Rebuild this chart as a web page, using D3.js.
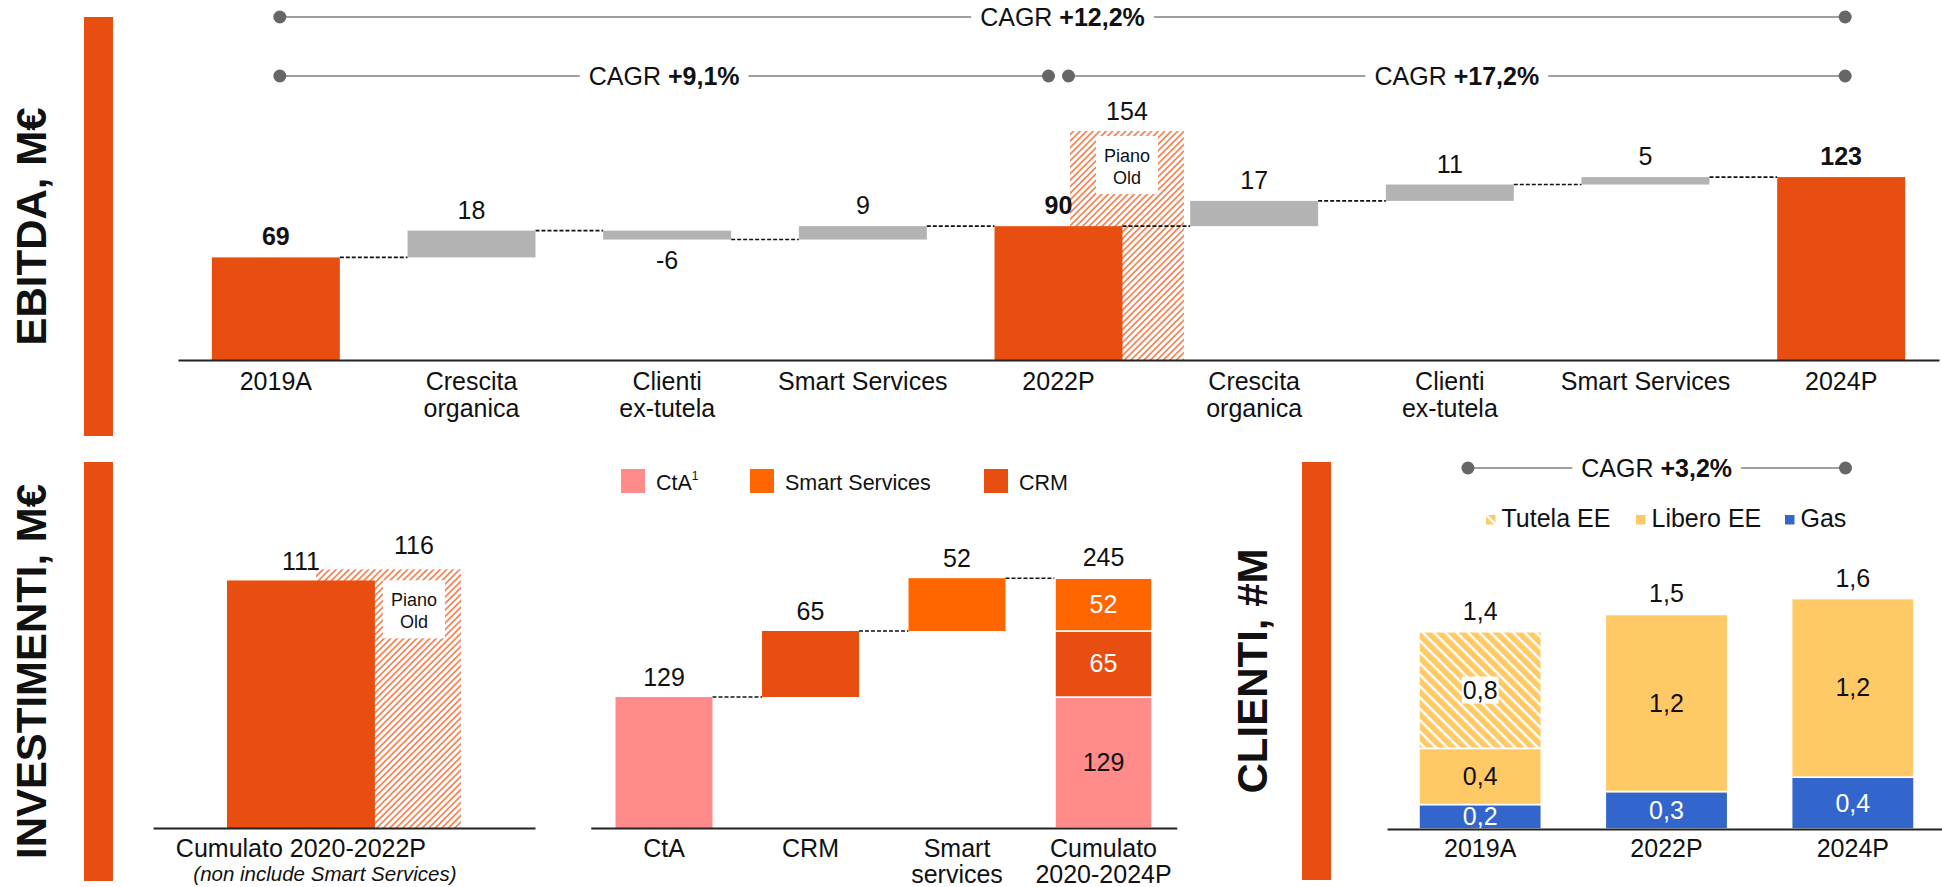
<!DOCTYPE html>
<html>
<head>
<meta charset="utf-8">
<script src="https://cdn.jsdelivr.net/npm/d3@7"></script>
<style>
  body { margin: 0; background: #fff; }
  svg { display: block; font-family: "Liberation Sans", Arial, sans-serif; }
</style>
</head>
<body>
<svg id="chart" width="1942" height="887"></svg>
<script>
// EBITDA bridge, M€
const ebitdaCats = ['2019A', 'Crescita|organica', 'Clienti|ex-tutela', 'Smart Services', '2022P', 'Crescita|organica', 'Clienti|ex-tutela', 'Smart Services', '2024P'];
const ebitdaValues = [69, 18, -6, 9, 90, 17, 11, 5, 123];
const ebitdaIsTotal = [true, false, false, false, true, false, false, false, true];
const ebitdaOldPlan = 154;
const ebitdaCagr = [
  { from: 0, to: 8, label: '+12,2%', row: 0 },
  { from: 0, to: 4, label: '+9,1%', row: 1 },
  { from: 4, to: 8, label: '+17,2%', row: 1 }
];

// Investimenti, M€
const capexOldCat = 'Cumulato 2020-2022P';
const capexOldNote = '(non include Smart Services)';
const capexOldValue = 111;
const capexOldPlan = 116;

const capexCats = ['CtA', 'CRM', 'Smart|services', 'Cumulato|2020-2024P'];
const capexSeries = ['CtA', 'CRM', 'Smart Services'];
const capexValues = [129, 65, 52];
const capexTotal = 245;
const capexLegend = ['CtA', 'Smart Services', 'CRM'];

// Clienti, #M
const clientYears = ['2019A', '2022P', '2024P'];
const clientSeries = ['Gas', 'Libero EE', 'Tutela EE'];
const clientGas = [0.17, 0.26, 0.36];
const clientLibero = [0.39, 1.23, 1.24];
const clientTutela = [0.81, 0, 0];
const clientLegend = ['Tutela EE', 'Libero EE', 'Gas'];
const clientCagr = '+3,2%';

const ORANGE = '#e84e10';
const GREY = '#b3b3b3';
const PINK = '#ff8b8b';
const SMART = '#ff6600';
const YELLOW = '#ffc966';
const BLUE = '#3366cc';
const INK = '#111';

const svg = d3.select('#chart');
const defs = svg.append('defs');

const hatchOld = defs.append('pattern')
  .attr('id', 'hatch-old')
  .attr('patternUnits', 'userSpaceOnUse')
  .attr('width', 4.6).attr('height', 4.6)
  .attr('patternTransform', 'rotate(45)');
hatchOld.append('rect').attr('width', 4.6).attr('height', 4.6).attr('fill', '#fff');
hatchOld.append('rect').attr('width', 1.8).attr('height', 4.6).attr('fill', '#f2875a');

const hatchTutela = defs.append('pattern')
  .attr('id', 'hatch-tutela')
  .attr('patternUnits', 'userSpaceOnUse')
  .attr('width', 8).attr('height', 8)
  .attr('patternTransform', 'rotate(-45)');
hatchTutela.append('rect').attr('width', 8).attr('height', 8).attr('fill', '#fff');
hatchTutela.append('rect').attr('width', 5.6).attr('height', 8).attr('fill', YELLOW);

const fmt1 = v => d3.format('.1f')(v).replace('.', ',');

function sectionMarker(xBar, y0, y1, xText, label, len) {
  svg.append('rect')
    .attr('x', xBar).attr('y', y0)
    .attr('width', 29).attr('height', y1 - y0)
    .attr('fill', ORANGE);
  const t = svg.append('text')
    .attr('transform', `translate(${xText},${(y0 + y1) / 2}) rotate(-90)`)
    .attr('text-anchor', 'middle')
    .attr('font-size', 42)
    .attr('font-weight', 'bold')
    .attr('fill', INK)
    .text(label);
  if (len) t.attr('textLength', len).attr('lengthAdjust', 'spacingAndGlyphs');
}

function cagrBracket(x1, x2, y, value) {
  const g = svg.append('g');
  g.append('line')
    .attr('x1', x1).attr('x2', x2).attr('y1', y).attr('y2', y)
    .attr('stroke', '#7f7f7f').attr('stroke-width', 1.6);
  g.selectAll('circle').data([x1, x2]).join('circle')
    .attr('cx', d => d).attr('cy', y).attr('r', 6.5).attr('fill', '#666');
  const t = g.append('text')
    .attr('x', (x1 + x2) / 2).attr('y', y + 9)
    .attr('text-anchor', 'middle')
    .attr('font-size', 25).attr('fill', INK);
  t.append('tspan').text('CAGR ');
  t.append('tspan').attr('font-weight', 'bold').text(value);
  const b = t.node().getBBox();
  g.insert('rect', 'text')
    .attr('x', b.x - 9).attr('y', y - 3)
    .attr('width', b.width + 18).attr('height', 6)
    .attr('fill', '#fff');
}

function bottomAxis(scale, y, labels, size, firstDy, lineH) {
  const g = svg.append('g')
    .attr('transform', `translate(0,${y})`)
    .call(d3.axisBottom(scale).tickSize(0).tickSizeOuter(0).tickFormat(d => labels(d)));
  g.select('.domain').attr('stroke', '#222').attr('stroke-width', 2);
  g.attr('font-family', null).attr('font-size', size);
  g.selectAll('.tick text').each(function(d) {
    const t = d3.select(this);
    const parts = labels(d).split('|');
    t.text(null).attr('dy', null).attr('fill', INK);
    parts.forEach((p, k) => t.append('tspan').attr('x', 0).attr('y', firstDy + k * lineH).text(p));
  });
  return g;
}

function pianoOldBox(cx, top) {
  svg.append('rect')
    .attr('x', cx - 31).attr('y', top)
    .attr('width', 62).attr('height', 58)
    .attr('fill', '#fff');
  const t = svg.append('text')
    .attr('x', cx).attr('y', top + 26)
    .attr('text-anchor', 'middle')
    .attr('font-size', 18).attr('fill', INK);
  t.append('tspan').attr('x', cx).text('Piano');
  t.append('tspan').attr('x', cx).attr('dy', 21.5).text('Old');
}

function dashed(x1, x2, y) {
  svg.append('line')
    .attr('x1', x1).attr('x2', x2).attr('y1', y).attr('y2', y)
    .attr('stroke', '#111').attr('stroke-width', 1.6)
    .attr('stroke-dasharray', '4 2');
}

// ---------- EBITDA ----------
sectionMarker(84, 17, 436, 46, 'EBITDA, M€');

const xE = d3.scaleBand()
  .domain(d3.range(ebitdaCats.length))
  .range([178, 1939])
  .paddingInner(0.346)
  .paddingOuter(0.173);
const yE = d3.scaleLinear().domain([0, 160]).range([360, 360 - 160 * 1.487]);
const bwE = xE.bandwidth();

let running = 0;
const ebitdaBars = ebitdaValues.map((v, i) => {
  let y0, y1;
  if (ebitdaIsTotal[i]) { y0 = 0; y1 = v; } else { y0 = running; y1 = running + v; }
  running = y1;
  return { i, v, y0, y1, total: ebitdaIsTotal[i] };
});

// old plan (hatched) behind 2022P
const oldIdx = ebitdaCats.indexOf('2022P');
const oldX = xE(oldIdx) + bwE * 0.59;
const oldW = bwE * 0.89;
svg.append('rect')
  .attr('x', oldX).attr('y', yE(ebitdaOldPlan))
  .attr('width', oldW).attr('height', yE(0) - yE(ebitdaOldPlan))
  .attr('fill', 'url(#hatch-old)');
pianoOldBox(oldX + oldW / 2, yE(ebitdaOldPlan) + 5);
svg.append('text')
  .attr('x', oldX + oldW / 2).attr('y', yE(ebitdaOldPlan) - 11)
  .attr('text-anchor', 'middle').attr('font-size', 25).attr('fill', INK)
  .text(ebitdaOldPlan);

for (let i = 0; i < ebitdaBars.length - 1; i++) {
  dashed(xE(i) + bwE, xE(i + 1), yE(ebitdaBars[i].y1));
}

svg.append('g').selectAll('rect')
  .data(ebitdaBars)
  .join('rect')
  .attr('x', d => xE(d.i))
  .attr('y', d => yE(Math.max(d.y0, d.y1)))
  .attr('width', bwE)
  .attr('height', d => Math.abs(yE(d.y0) - yE(d.y1)))
  .attr('fill', d => d.total ? ORANGE : GREY);

svg.append('g').selectAll('text')
  .data(ebitdaBars)
  .join('text')
  .attr('x', d => xE(d.i) + bwE / 2)
  .attr('y', d => d.v < 0 ? yE(Math.min(d.y0, d.y1)) + 29 : yE(Math.max(d.y0, d.y1)) - 12)
  .attr('text-anchor', 'middle')
  .attr('font-size', 25)
  .attr('font-weight', d => d.total ? 'bold' : 'normal')
  .attr('fill', INK)
  .text(d => d.v);

bottomAxis(xE, 360, i => ebitdaCats[i], 25, 30, 27);

ebitdaCagr.forEach(c => {
  const cy = c.row === 0 ? 17 : 76;
  let x1 = xE(c.from) + bwE / 2 + 4;
  let x2 = xE(c.to) + bwE / 2 + 4;
  if (c.row === 1 && c.to === oldIdx) x2 = xE(c.to) + bwE / 2 - 10;
  if (c.row === 1 && c.from === oldIdx) x1 = xE(c.from) + bwE / 2 + 10;
  cagrBracket(x1, x2, cy, c.label);
});

// ---------- INVESTIMENTI ----------
sectionMarker(84, 462, 881, 46, 'INVESTIMENTI, M€', 375);

const xI0 = d3.scaleBand().domain([capexOldCat]).range([153, 535]).paddingOuter(0.316);
const yI0 = d3.scaleLinear().domain([0, 120]).range([828, 828 - 120 * 2.23]);
const bwI0 = xI0.bandwidth();
const orangeW = bwI0 * 0.632;
const hatchX = xI0(capexOldCat) + bwI0 * 0.38;
const hatchW = bwI0 * 0.62;

svg.append('rect')
  .attr('x', hatchX).attr('y', yI0(capexOldPlan))
  .attr('width', hatchW).attr('height', yI0(0) - yI0(capexOldPlan))
  .attr('fill', 'url(#hatch-old)');
svg.append('rect')
  .attr('x', xI0(capexOldCat)).attr('y', yI0(capexOldValue))
  .attr('width', orangeW).attr('height', yI0(0) - yI0(capexOldValue))
  .attr('fill', ORANGE);
const visibleHatchC = (xI0(capexOldCat) + orangeW + hatchX + hatchW) / 2 - 4;
pianoOldBox(visibleHatchC, yI0(capexOldPlan) + 11);
svg.append('text')
  .attr('x', xI0(capexOldCat) + orangeW / 2).attr('y', yI0(capexOldValue) - 10)
  .attr('text-anchor', 'middle').attr('font-size', 25).attr('fill', INK)
  .text(capexOldValue);
svg.append('text')
  .attr('x', visibleHatchC).attr('y', yI0(capexOldPlan) - 15)
  .attr('text-anchor', 'middle').attr('font-size', 25).attr('fill', INK)
  .text(capexOldPlan);

const ax0 = svg.append('g')
  .attr('transform', 'translate(0,828)')
  .call(d3.axisBottom(xI0).tickSize(0).tickSizeOuter(0).tickFormat(''));
ax0.select('.domain').attr('stroke', '#222').attr('stroke-width', 2);
svg.append('text')
  .attr('x', xI0(capexOldCat) + orangeW / 2).attr('y', 857)
  .attr('text-anchor', 'middle').attr('font-size', 25).attr('fill', INK)
  .text(capexOldCat);
svg.append('text')
  .attr('x', xI0(capexOldCat) + orangeW / 2 + 24).attr('y', 881)
  .attr('text-anchor', 'middle').attr('font-size', 20.5).attr('font-style', 'italic').attr('fill', INK)
  .text(capexOldNote);

// waterfall 2020-2024
const capexColor = d3.scaleOrdinal().domain(capexSeries).range([PINK, ORANGE, SMART]);
const xI = d3.scaleBand()
  .domain(d3.range(capexCats.length))
  .range([590.75, 1176.75])
  .paddingInner(0.338)
  .paddingOuter(0.169);
const yI = d3.scaleLinear().domain([0, 260]).range([828, 828 - 260 * 1.0155]);
const bwI = xI.bandwidth();

let cum = 0;
const capexSteps = capexValues.map((v, i) => {
  const s = { i, key: capexSeries[i], v, y0: cum, y1: cum + v };
  cum += v;
  return s;
});
const totalIdx = capexCats.length - 1;

capexSteps.forEach((s, k) => {
  const nextX = k < capexSteps.length - 1 ? xI(k + 1) : xI(totalIdx);
  dashed(xI(k) + bwI, nextX, yI(s.y1));
});

svg.append('g').selectAll('rect')
  .data(capexSteps)
  .join('rect')
  .attr('x', d => xI(d.i))
  .attr('y', d => yI(d.y1))
  .attr('width', bwI)
  .attr('height', d => yI(d.y0) - yI(d.y1))
  .attr('fill', d => capexColor(d.key));

svg.append('g').selectAll('text')
  .data(capexSteps)
  .join('text')
  .attr('x', d => xI(d.i) + bwI / 2)
  .attr('y', d => yI(d.y1) - 11)
  .attr('text-anchor', 'middle').attr('font-size', 25).attr('fill', INK)
  .text(d => d.v);

svg.append('g').selectAll('rect')
  .data(capexSteps)
  .join('rect')
  .attr('x', xI(totalIdx))
  .attr('y', d => yI(d.y1))
  .attr('width', bwI)
  .attr('height', d => yI(d.y0) - yI(d.y1))
  .attr('fill', d => capexColor(d.key))
  .attr('stroke', '#fff').attr('stroke-width', 1.5);

svg.append('g').selectAll('text')
  .data(capexSteps)
  .join('text')
  .attr('x', xI(totalIdx) + bwI / 2)
  .attr('y', d => (yI(d.y0) + yI(d.y1)) / 2 + 8.5)
  .attr('text-anchor', 'middle').attr('font-size', 25)
  .attr('fill', d => d.key === 'CtA' ? INK : '#fff')
  .text(d => d.v);

svg.append('text')
  .attr('x', xI(totalIdx) + bwI / 2).attr('y', yI(cum) - 12)
  .attr('text-anchor', 'middle').attr('font-size', 25).attr('fill', INK)
  .text(capexTotal);

bottomAxis(xI, 828, i => capexCats[i], 25, 29, 26);

// legend
const capexLegendX = [621, 750, 984];
capexLegend.forEach((k, i) => {
  svg.append('rect')
    .attr('x', capexLegendX[i]).attr('y', 469)
    .attr('width', 24).attr('height', 24)
    .attr('fill', capexColor(k));
  const t = svg.append('text')
    .attr('x', capexLegendX[i] + 35).attr('y', 490)
    .attr('font-size', 21.5).attr('fill', INK)
    .text(k);
  if (k === 'CtA') t.append('tspan').attr('font-size', 12).attr('dy', -10).text('1');
});

// ---------- CLIENTI ----------
sectionMarker(1302, 462, 880, 1267, 'CLIENTI, #M');

const xC = d3.scaleBand()
  .domain(clientYears)
  .range([1387, 1946])
  .paddingInner(0.343)
  .paddingOuter(0.1715);
const yC = d3.scaleLinear().domain([0, 1.8]).range([829, 829 - 1.8 * 144]);
const bwC = xC.bandwidth();

const clientRows = clientYears.map((y, i) => ({
  year: y,
  'Gas': clientGas[i],
  'Libero EE': clientLibero[i],
  'Tutela EE': clientTutela[i]
}));
const clientStack = d3.stack().keys(clientSeries)(clientRows);
const clientFill = { 'Gas': BLUE, 'Libero EE': YELLOW, 'Tutela EE': 'url(#hatch-tutela)' };
const clientInk = { 'Gas': '#fff', 'Libero EE': INK, 'Tutela EE': INK };

clientStack.forEach(layer => {
  const segs = layer.filter(d => d[1] - d[0] > 0);
  svg.append('g').selectAll('rect')
    .data(segs)
    .join('rect')
    .attr('x', d => xC(d.data.year))
    .attr('y', d => yC(d[1]))
    .attr('width', bwC)
    .attr('height', d => yC(d[0]) - yC(d[1]))
    .attr('fill', clientFill[layer.key])
    .attr('stroke', '#fff').attr('stroke-width', 1.6);
  segs.forEach(d => {
    const t = svg.append('text')
      .attr('x', xC(d.data.year) + bwC / 2)
      .attr('y', (yC(d[0]) + yC(d[1])) / 2 + 8.5)
      .attr('text-anchor', 'middle').attr('font-size', 25)
      .attr('fill', clientInk[layer.key])
      .text(fmt1(d[1] - d[0]));
    if (layer.key === 'Tutela EE') {
      const b = t.node().getBBox();
      svg.insert('rect', () => t.node())
        .attr('x', b.x - 1).attr('y', b.y + 1)
        .attr('width', b.width + 2).attr('height', b.height - 1)
        .attr('fill', '#fff');
    }
  });
});

const clientTotals = clientRows.map(r => ({ year: r.year, total: d3.sum(clientSeries, k => r[k]) }));
svg.append('g').selectAll('text')
  .data(clientTotals)
  .join('text')
  .attr('x', d => xC(d.year) + bwC / 2)
  .attr('y', d => yC(d.total) - 12)
  .attr('text-anchor', 'middle').attr('font-size', 25).attr('fill', INK)
  .text(d => fmt1(d.total));

bottomAxis(xC, 829, d => d, 25, 28, 26);

cagrBracket(xC(clientYears[0]) + bwC * 0.4, xC(clientYears[clientYears.length - 1]) + bwC * 0.44, 468, clientCagr);

const clientLegendX = [1486, 1636, 1785];
clientLegend.forEach((k, i) => {
  svg.append('rect')
    .attr('x', clientLegendX[i]).attr('y', 515)
    .attr('width', 9.5).attr('height', 9.5)
    .attr('fill', clientFill[k]);
  svg.append('text')
    .attr('x', clientLegendX[i] + 15.5).attr('y', 527)
    .attr('font-size', 25).attr('fill', INK)
    .text(k);
});
</script>
</body>
</html>
